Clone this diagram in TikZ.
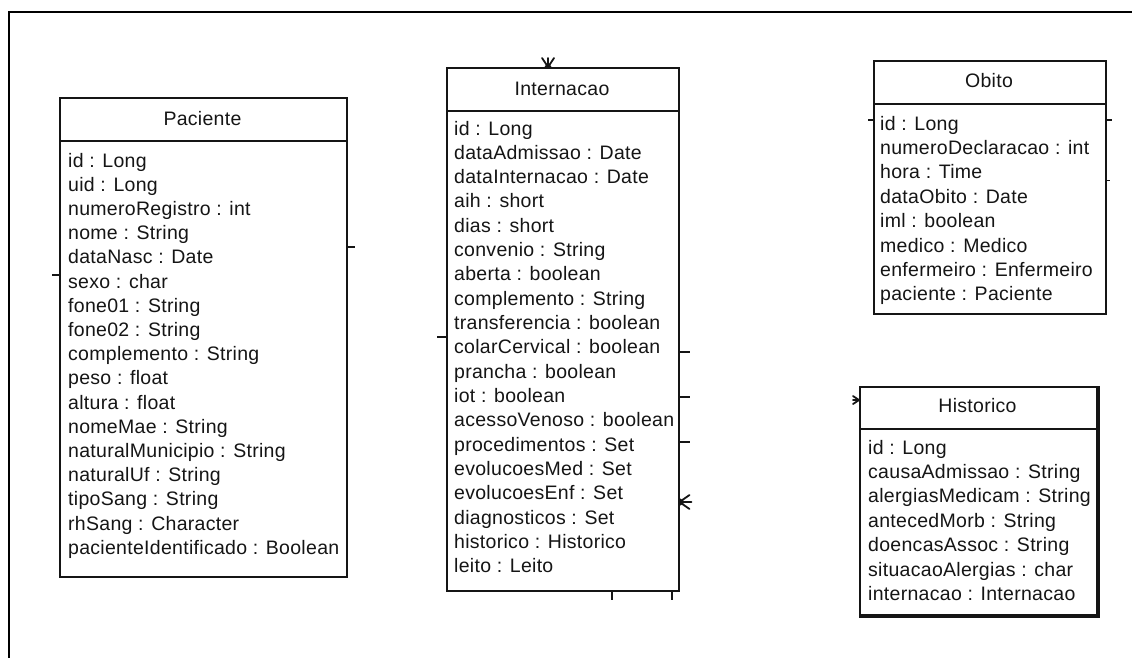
\documentclass[tikz,border=0pt]{standalone}
\usepackage{fontspec}
\setmainfont[LetterSpace=1.5]{Liberation Sans}
\usetikzlibrary{backgrounds,calc}
\definecolor{ink}{HTML}{151515}
\definecolor{halo}{HTML}{EEF2F8}
\tikzset{
  classbox/.style={draw=ink, line width=1.5pt, fill=white, inner sep=0pt, anchor=north west},
  classline/.style={draw=ink, line width=1.5pt},
  stub/.style={draw=ink, line width=1.3pt},
  crow/.style={draw=ink, line width=1.8pt, line cap=round},
  attr/.style={anchor=base west, inner sep=0pt, text=ink, font=\fontsize{19.5}{23}\selectfont},
  ctitle/.style={anchor=base, inner sep=0pt, text=ink, font=\fontsize{19.5}{23}\selectfont},
}
\begin{document}
\begin{tikzpicture}[x=1pt,y=-1pt]
\useasboundingbox (0,0) rectangle (1132,657);
\fill[white] (0,0) rectangle (1132,657);
% page frame (top and left edges)
\draw[line width=2pt, black] (9,670) -- (9,12) -- (1140,12);

% ---------- Paciente ----------
\node[classbox, minimum width=287pt, minimum height=479pt] (pac) at (59,97) {};
\draw[classline] ([yshift=-44pt]pac.north west) -- ([yshift=-44pt]pac.north east);
\node[ctitle] (pac-t) at (202.5,125) {Paciente};
\foreach \t [count=\i from 0] in {id : Long, uid : Long, numeroRegistro : int, nome : String, dataNasc : Date, sexo : char, fone01 : String, fone02 : String, complemento : String, peso : float, altura : float, nomeMae : String, naturalMunicipio : String, naturalUf : String, tipoSang : String, rhSang : Character, pacienteIdentificado : Boolean}
  \node[attr] (pac-\i) at (68,167+24.2*\i) {\t};

% ---------- Internacao ----------
\node[classbox, minimum width=232pt, minimum height=523pt] (int) at (446,67) {};
\draw[classline] ([yshift=-44pt]int.north west) -- ([yshift=-44pt]int.north east);
\node[ctitle] (int-t) at (562,95) {Internacao};
\foreach \t [count=\i from 0] in {id : Long, dataAdmissao : Date, dataInternacao : Date, aih : short, dias : short, convenio : String, aberta : boolean, complemento : String, transferencia : boolean, colarCervical : boolean, prancha : boolean, iot : boolean, acessoVenoso : boolean, procedimentos : Set, evolucoesMed : Set, evolucoesEnf : Set, diagnosticos : Set, historico : Historico, leito : Leito}
  \node[attr] (int-\i) at (454,135+24.33*\i) {\t};

% ---------- Obito ----------
\node[classbox, minimum width=232pt, minimum height=253pt] (obi) at (873,60) {};
\draw[classline] ([yshift=-44pt]obi.north west) -- ([yshift=-44pt]obi.north east);
\node[ctitle] (obi-t) at (989,87.5) {Obito};
\foreach \t [count=\i from 0] in {id : Long, numeroDeclaracao : int, hora : Time, dataObito : Date, iml : boolean, medico : Medico, enfermeiro : Enfermeiro, paciente : Paciente}
  \node[attr] (obi-\i) at (880,130+24.4*\i) {\t};

% ---------- Historico ----------
\node[classbox, minimum width=237pt, minimum height=228pt, line width=2pt] (his) at (859,386) {};
\draw[draw=ink, line width=3pt] (his.north east) -- (his.south east) -- (his.south west);
\draw[classline] ([yshift=-43pt]his.north west) -- ([yshift=-43pt]his.north east);
\node[ctitle] (his-t) at (977.5,412) {Historico};
\foreach \t [count=\i from 0] in {id : Long, causaAdmissao : String, alergiasMedicam : String, antecedMorb : String, doencasAssoc : String, situacaoAlergias : char, internacao : Internacao}
  \node[attr] (his-\i) at (868,454+24.45*\i) {\t};

% light halo behind each class
\begin{scope}[on background layer]
  \foreach \b in {pac,int,obi,his}
    \fill[halo] ([shift={(-7pt,7pt)}]\b.north west) rectangle ([shift={(7pt,-8pt)}]\b.south east);
\end{scope}

% ---------- association stubs (other ends outside the view) ----------
\coordinate (pe1) at (355,247);
\coordinate (pw1) at (52,275);
\draw[stub] (pac.east |- pe1) -- (pe1);
\draw[stub] (pac.west |- pw1) -- (pw1);

\coordinate (iw1) at (437,337);
\coordinate (ie1) at (690,352);
\coordinate (ie2) at (690,397);
\coordinate (ie3) at (690,442);
\coordinate (is1) at (612,600);
\coordinate (is2) at (672,600);
\draw[stub] (int.west |- iw1) -- (iw1);
\draw[stub] (int.east |- ie1) -- (ie1);
\draw[stub] (int.east |- ie2) -- (ie2);
\draw[stub] (int.east |- ie3) -- (ie3);
\draw[stub] (int.south -| is1) -- (is1);
\draw[stub] (int.south -| is2) -- (is2);

% crow's feet (many ends)
\coordinate (in1) at (548,57);
\draw[crow] (int.north -| in1) -- ++(-6,-9) (int.north -| in1) -- ++(0,-9) (int.north -| in1) -- ++(6,-9);
\fill[ink] ($(int.north -| in1)+(-3.5,0)$) -- ($(int.north -| in1)+(3.5,0)$) -- ($(int.north -| in1)+(0,-5)$) -- cycle;

\coordinate (ie4) at (690,502);
\draw[crow] (int.east |- ie4) -- ++(10,-7) (int.east |- ie4) -- ++(12,0) (int.east |- ie4) -- ++(10,7);
\fill[ink] ($(int.east |- ie4)+(0,-4)$) -- ($(int.east |- ie4)+(0,4)$) -- ($(int.east |- ie4)+(6,0)$) -- cycle;

\coordinate (hw1) at (852,400);
\draw[crow] (his.west |- hw1) -- ++(-6,-4) (his.west |- hw1) -- ++(-6,0) (his.west |- hw1) -- ++(-6,4);

\coordinate (ow1) at (868,120);
\coordinate (oe1) at (1112,120);
\coordinate (oe2) at (1110,180);
\draw[stub, line width=2pt] (obi.west |- ow1) -- (ow1);
\draw[stub, line width=2pt] (obi.east |- oe1) -- (oe1);
\draw[stub, line width=1pt] (obi.east |- oe2) -- (oe2);
\end{tikzpicture}
\end{document}
